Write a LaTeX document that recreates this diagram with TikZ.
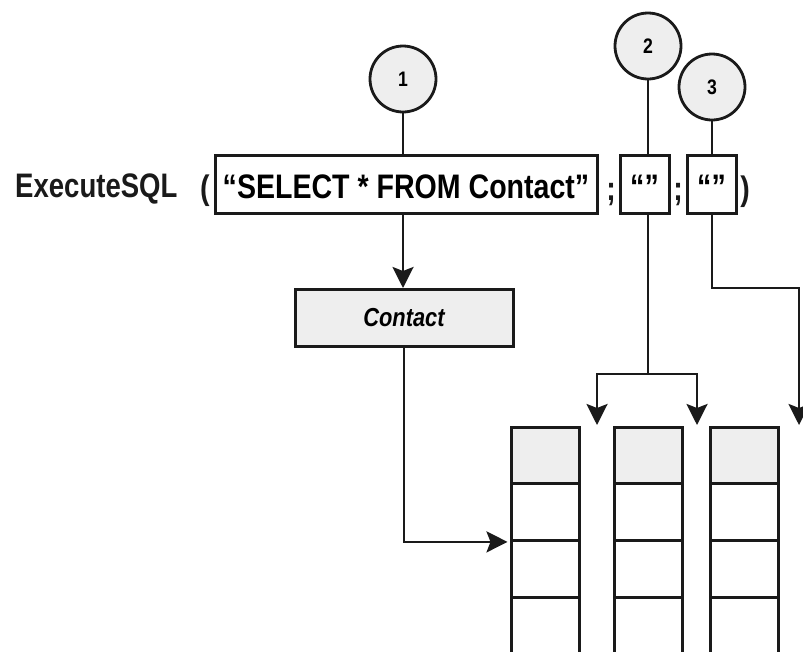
\documentclass[tikz,border=0pt]{standalone}
\usepackage{fontspec}
\setmainfont[FakeStretch=0.84]{Liberation Sans}
\newfontfamily\execfont[FakeStretch=0.81]{Liberation Sans}
\usetikzlibrary{arrows.meta}
\definecolor{cellgray}{HTML}{EEEEEE}
\definecolor{ink}{HTML}{1A1A1A}
\tikzset{
 conn/.style={line width=2.8pt, draw=ink},
 tip/.style={-{Stealth[length=21pt,width=21pt,inset=4pt]}},
 callout/.style={circle, draw=ink, line width=2.8pt, fill=cellgray, minimum size=66pt, inner sep=0pt, font=\fontsize{21}{21}\selectfont\bfseries},
 argbox/.style={draw=ink, line width=3pt, inner xsep=0pt, inner ysep=15pt, text height=28pt, text depth=0pt, minimum height=57pt, font=\fontsize{34}{34}\selectfont\bfseries},
 cell/.style={draw=ink, line width=3pt, minimum width=68pt, minimum height=56.7pt, inner sep=0pt},
 plain/.style={font=\fontsize{34}{34}\selectfont\bfseries, inner sep=0pt, text=ink},
}
\begin{document}
\begin{tikzpicture}[x=1pt,y=-1pt]
\useasboundingbox (0,0) rectangle (803,651);
\clip (0,0) rectangle (803,651);
% callouts
\node[callout] (c1) at (403,79) {1};
\node[callout] (c2) at (648,46) {2};
\node[callout] (c3) at (712,87) {3};
% call line
\node[plain, anchor=base west, font=\execfont\fontsize{34}{34}\selectfont\bfseries] (exec) at (15,197) {ExecuteSQL};
\node[plain, anchor=base] (lp) at (205,199) {(};
\node[argbox, minimum width=382pt] (b1) at (406,184) {“SELECT * FROM Contact”};
\node[plain, anchor=base] (sc1) at (611,200) {;};
\node[argbox, minimum width=49pt] (b2) at (644.5,184) {“”};
\node[plain, anchor=base] (sc2) at (678,200) {;};
\node[argbox, minimum width=49pt] (b3) at (711.5,184) {“”};
\node[plain, anchor=base] (rp) at (745,200) {)};
% Contact box
\node[draw=ink, line width=3pt, fill=cellgray, minimum width=218pt, minimum height=57pt, font=\fontsize{26}{26}\selectfont\bfseries\itshape] (ct) at (404,318) {Contact};
% table columns
\foreach \c/\x in {1/545, 2/648, 3/744}{
  \node[cell, fill=cellgray] (t\c1) at (\x,455.35) {};
  \node[cell] (t\c2) at (\x,512.05) {};
  \node[cell] (t\c3) at (\x,568.75) {};
  \node[cell] (t\c4) at (\x,625.45) {};
}
% coordinates
\coordinate (s2) at (648,374);
\coordinate (a1) at (597,425);
\coordinate (a2) at (697,425);
\coordinate (a3) at (799,425);
\coordinate (k3) at (799,288);
% connectors
\draw[conn] (c1.south) -- (c1.south |- b1.north);
\draw[conn,tip] (c1.south |- b1.south) -- (c1.south |- ct.north);
\draw[conn,tip,shorten >=2pt] (ct.south) |- (t12.south west);
\draw[conn] (c2.south) -- (c2.south |- b2.north);
\draw[conn] (c2.south |- b2.south) -- (s2);
\draw[conn,tip] (s2) -| (a1);
\draw[conn,tip] (s2) -| (a2);
\draw[conn] (c3.south) -- (c3.south |- b3.north);
\draw[conn,tip] (c3.south |- b3.south) |- (k3) -- (a3);
\end{tikzpicture}
\end{document}
